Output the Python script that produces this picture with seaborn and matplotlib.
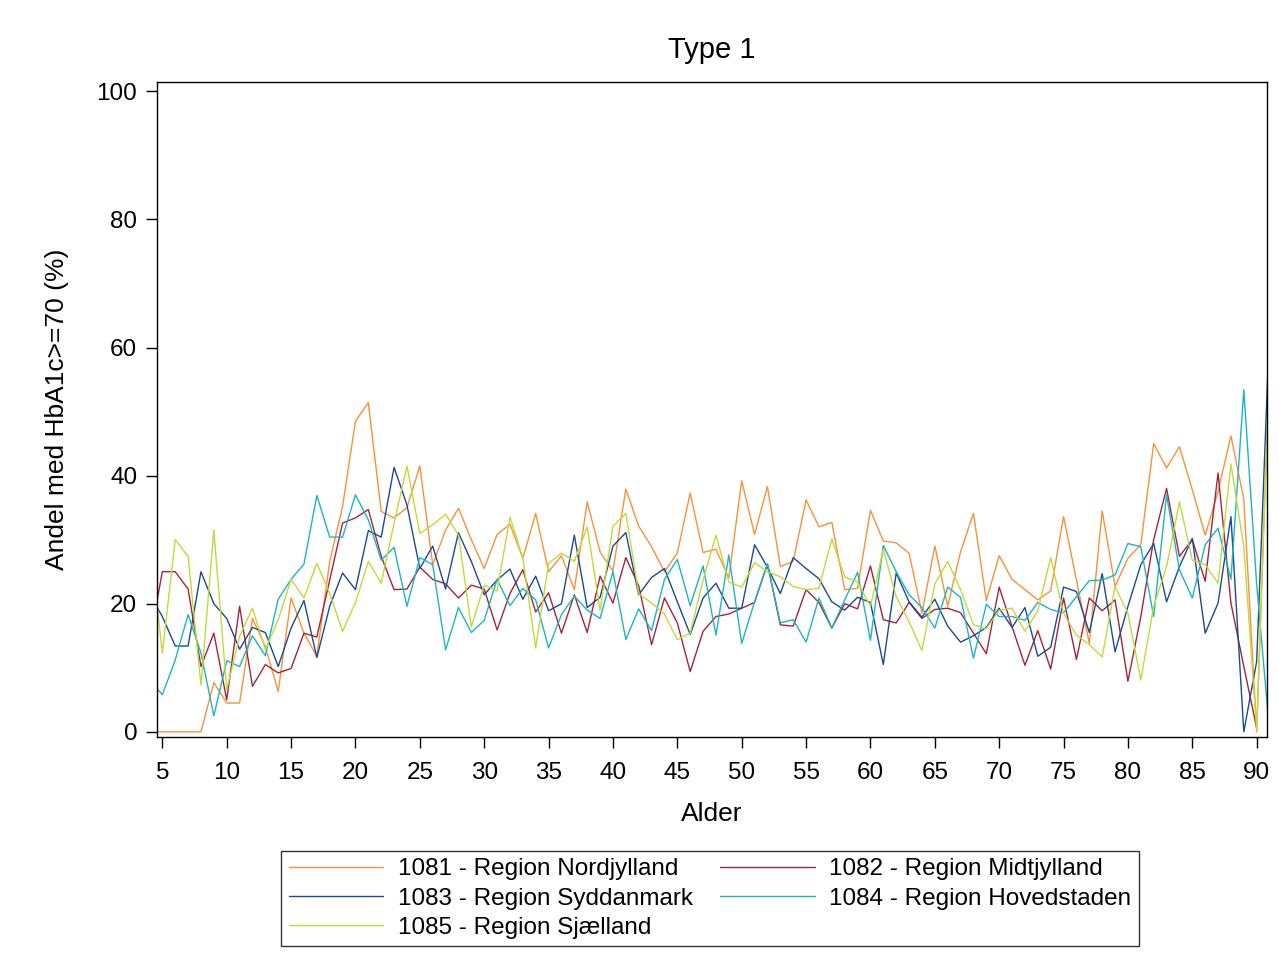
import matplotlib
matplotlib.use("Agg")
import matplotlib.pyplot as plt
import seaborn as sns
import pandas as pd
import numpy as np

ages = list(range(4, 92))

nordjylland = [0, 0, 0, 0, 0, 7.7, 4.5, 4.5, 17.7, 13.3, 6.3, 20.9, 15.4, 11.8, 26.6, 35.2, 48.5,
               51.4, 34.4, 33.4, 35, 41.5, 26.1, 31.5, 34.9, 30, 25.5, 30.8, 32.4, 27.1, 34.1,
               25, 27.5, 22.2, 35.9, 28.1, 25.1, 37.9, 32.1, 28.9, 25, 27.9, 37.3, 28, 28.5, 24,
               39.2, 30.8, 38.3, 25.8, 26.6, 36.2, 32, 32.7, 22.2, 22.4, 34.6, 29.8, 29.5, 27.9, 18.5,
               29, 19.6, 28.1, 34.1, 20.5, 27.5, 23.8, 22.2, 20.6, 22, 33.6, 23.7, 13.8, 34.5, 22.7,
               27.1, 29.2, 45, 41.2, 44.5, 37.8, 30.7, 37.5, 46.2, 36.3, 0, 58]
midtjylland = [14, 25, 25, 22.3, 10.2, 15.4, 5, 19.6, 7.1, 10.5, 9.2, 9.9, 15.4, 14.8, 23.7, 32.6, 33.4,
               34.7, 27.4, 22.2, 22.3, 25.7, 23.8, 23.1, 20.9, 22.9, 22.3, 15.9, 21.6, 25.3, 18.7,
               21.7, 15.4, 21.4, 15.5, 24.3, 20.1, 27.2, 22.8, 13.6, 20.9, 17, 9.4, 15.7, 18, 18.4,
               19.3, 20.2, 26.2, 16.7, 16.5, 22.2, 20.2, 16.2, 20, 19.2, 25.9, 17.5, 17, 20.2, 17.7,
               19.1, 19.3, 18.6, 15.4, 12.2, 22.6, 16.4, 10.4, 15.8, 9.8, 20.9, 11.3, 20.9, 18.9, 20.6,
               7.9, 18, 30, 38, 27.4, 30, 23.5, 40.4, 20.1, 10.2, 0.6, np.nan]
syddanmark = [21.5, 18, 13.4, 13.4, 25, 20, 17.7, 12.9, 16.3, 15.5, 10.2, 16.2, 20.5, 11.6, 19.6, 24.8, 22.2,
              31.4, 30.4, 41.3, 35.4, 25.5, 29, 22.3, 31.1, 26.6, 21.4, 23.7, 25.4, 20.7, 24.3,
              18.9, 20, 30.7, 19.4, 21, 29, 31.1, 21.4, 24.1, 25.5, 20.3, 15.2, 20.9, 23.2, 19.3,
              19.3, 29.2, 25.7, 21.6, 27.2, 25.5, 23.9, 20.3, 19, 21, 20.2, 10.5, 24.8, 20.3, 17.9,
              20.7, 16.5, 14, 15, 16.3, 19.3, 16.3, 19.4, 11.8, 13.2, 22.6, 21.9, 15.5, 24.7, 12.5,
              19.6, 26.1, 29.4, 20.3, 25.8, 30.2, 15.4, 20.1, 33.6, 0, 11, 63]
hovedstaden = [8.1, 5.8, 11.2, 18.3, 12.3, 2.5, 11.1, 10.2, 15, 11.9, 20.7, 23.8, 26.2, 36.9, 30.4, 30.4, 37,
               33.1, 26.8, 28.8, 19.6, 27.2, 26.1, 12.8, 19.4, 15.5, 17.4, 23.8, 19.7, 22.4, 20.6,
               13.1, 18.3, 21.2, 19, 17.7, 25, 14.4, 19.2, 15.8, 23.8, 26.9, 19.7, 25.9, 15.1, 27.6,
               13.8, 20.3, 26.2, 17, 17.5, 14, 20.9, 16.2, 20.6, 24.9, 14.3, 29.1, 25, 21.4, 19.4,
               16.2, 22.6, 21, 11.5, 19.9, 18, 18, 17.4, 20.2, 19.1, 18.6, 21.1, 23.6, 23.7, 24.5,
               29.4, 28.9, 18, 37, 25.3, 20.9, 29.2, 31.8, 23.8, 53.4, 23, 0]
sjaelland = [30.6, 12.3, 30, 27.4, 7.3, 31.5, 6.6, 14.9, 19.3, 12.8, 17.5, 23.8, 20.9, 26.3, 21.6, 15.7, 20.2,
             26.6, 23.2, 32.6, 41.5, 31, 32.3, 34, 30.7, 16.4, 22.9, 22, 33.5, 27.1, 13.1,
             26.3, 27.9, 26.6, 32, 19, 32.1, 34.1, 21.6, 20.1, 18.4, 14.4, 15.4, 23.7, 30.7, 23.4,
             22.6, 26.4, 25, 24.2, 22.7, 22.2, 22.4, 30.1, 24.2, 23.4, 19.6, 28.5, 21.1, 17.2, 12.7,
             23.1, 26.6, 22.2, 16.7, 16.1, 19, 19.3, 15.7, 18.9, 27.2, 18.5, 15.1, 13.6, 11.7, 22.7,
             18.5, 8.1, 19.6, 25.8, 35.9, 26.8, 26.1, 23.2, 41.8, 28.9, 0.3, 58]

regions = ["1081 - Region Nordjylland", "1082 - Region Midtjylland", "1083 - Region Syddanmark",
           "1084 - Region Hovedstaden", "1085 - Region Sjælland"]
colors = ["#F7923A", "#A4243B", "#1B4A95", "#1BB5C3", "#C2D93C"]

frames = []
for reg, vals in zip(regions, [nordjylland, midtjylland, syddanmark, hovedstaden, sjaelland]):
    frames.append(pd.DataFrame({"Alder": ages, "andel": vals, "region": reg}))
df = pd.concat(frames, ignore_index=True)

sns.set_style("ticks")
plt.rcParams["font.family"] = ["Liberation Sans", "DejaVu Sans"]
plt.rcParams["text.color"] = "black"
plt.rcParams["axes.labelcolor"] = "black"

fig = plt.figure(figsize=(12.79, 9.61), dpi=100)
ax = fig.add_axes([0.1225, 0.2328, 0.8679, 0.6822])

sns.lineplot(data=df, x="Alder", y="andel", hue="region", hue_order=regions,
             palette=dict(zip(regions, colors)), estimator=None, sort=True,
             linewidth=1.0, ax=ax, legend=False)

ax.set_xlim(4.56, 90.78)
ax.set_ylim(-0.85, 101.5)
ax.set_xticks(range(5, 91, 5))
ax.set_yticks(range(0, 101, 20))
for s in ax.spines.values():
    s.set_visible(True)
    s.set_color("black")
    s.set_linewidth(1.0)
ax.tick_params(axis="both", direction="out", length=8, width=1, colors="black", labelsize=17.5)
ax.tick_params(axis="x", pad=10)
ax.tick_params(axis="y", pad=6)
ax.set_xlabel("Alder", fontsize=19, labelpad=13)
ax.set_ylabel("Andel med HbA1c>=70 (%)", fontsize=19, labelpad=20)
ax.set_title("Type 1", fontsize=21, pad=17, color="black")

# legend filled row by row like the reference: reorder for matplotlib's column fill
order = [0, 2, 4, 1, 3]
handles = [plt.Line2D([], [], color=colors[i], linewidth=1.0) for i in order]
labels = [regions[i] for i in order]
leg = fig.legend(handles, labels, loc="center", bbox_to_anchor=(710 / 1279, 1 - 898.5 / 961),
                 ncol=2, fontsize=17.5, frameon=True, fancybox=False, edgecolor="black",
                 handlelength=3.9, handletextpad=0.6, columnspacing=1.1, labelspacing=0.3,
                 borderpad=0.3)
leg.get_frame().set_linewidth(1.0)
for t in leg.get_texts():
    t.set_color("black")

fig.savefig("out.png", dpi=100)
